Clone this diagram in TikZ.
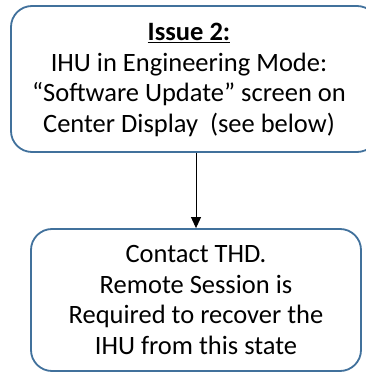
\documentclass[tikz,border=0pt]{standalone}
\usepackage{fontspec}
\setmainfont{Carlito}
\usetikzlibrary{arrows.meta}
\definecolor{boxblue}{RGB}{65,113,156}
\tikzset{
  flowbox/.style={draw=boxblue, line width=1.8pt, rounded corners=21pt, fill=white,
    align=center, inner sep=0pt, font=\fontsize{26.5}{30.5}\selectfont},
  flowtext/.style={align=center, inner sep=0pt, font=\fontsize{26.5}{30.5}\selectfont},
  flowarrow/.style={draw=black, line width=0.9pt, -{Triangle[length=11pt,width=10pt]}}
}
\begin{document}
\begin{tikzpicture}[x=1pt,y=1pt]
\useasboundingbox (0,0) rectangle (366,372);
\clip (0,0) rectangle (366,372);
\node[flowbox, minimum width=367pt, minimum height=146pt] (top) at (194.5,293) {};
\node[flowtext] (toptext) at (189,292)
  {\underline{\textbf{Issue 2:}}\\IHU in Engineering Mode:\\“Software Update” screen on\\Center Display~ (see below)};
\node[flowbox, minimum width=330pt, minimum height=142pt] (bot) at (196,72)
  {Contact THD.\\Remote Session is\\Required to recover the\\IHU from this state};
\draw[flowarrow] (top.south -| bot.north) -- (bot.north);
\end{tikzpicture}
\end{document}
